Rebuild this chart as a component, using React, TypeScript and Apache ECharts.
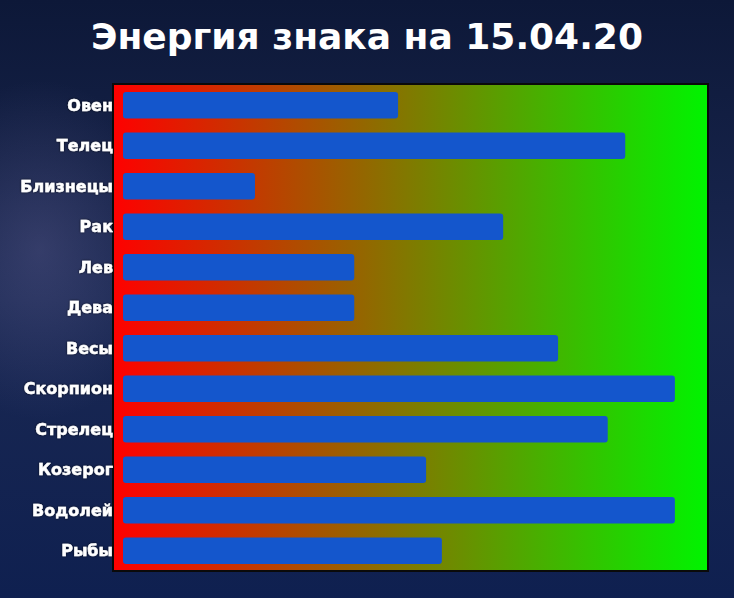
import React, { useEffect, useRef } from "react";
import * as echarts from "echarts";

const categories = [
  "Овен",
  "Телец",
  "Близнецы",
  "Рак",
  "Лев",
  "Дева",
  "Весы",
  "Скорпион",
  "Стрелец",
  "Козерог",
  "Водолей",
  "Рыбы",
];
const values = [47.1, 86.0, 22.6, 65.1, 39.6, 39.6, 74.5, 94.5, 83.0, 51.9, 94.5, 54.6];
const titleText = "Энергия знака на 15.04.20";

export default function App() {
  const ref = useRef<HTMLDivElement>(null);
  useEffect(() => {
    document.body.style.margin = "0";
    const chart = echarts.init(ref.current!, null, { renderer: "svg" });
    chart.setOption({
      animation: false,
      backgroundColor: "#0e1a3c",
      title: {
        text: titleText,
        left: "center",
        top: 13,
        textStyle: {
          color: "#ffffff",
          fontFamily: "'DejaVu Sans', sans-serif",
          fontWeight: "bold",
          fontSize: 36,
        },
      },
      graphic: [
        {
          type: "rect",
          z: -20,
          silent: true,
          shape: { x: 0, y: 0, width: 734, height: 598 },
          style: {
            fill: new echarts.graphic.LinearGradient(0, 0, 0, 1, [
              { offset: 0, color: "#0d1838" },
              { offset: 0.5, color: "#1a2852" },
              { offset: 1, color: "#0f2050" },
            ]),
          },
        },
        {
          type: "ellipse",
          z: -19,
          silent: true,
          shape: { cx: 40, cy: 250, rx: 130, ry: 170 },
          style: {
            fill: new echarts.graphic.RadialGradient(0.5, 0.5, 0.5, [
              { offset: 0, color: "rgba(120,115,170,0.3)" },
              { offset: 1, color: "rgba(120,115,170,0)" },
            ]),
          },
        },
        {
          type: "rect",
          z: -10,
          silent: true,
          shape: { x: 113, y: 84, width: 595, height: 487 },
          style: {
            fill: new echarts.graphic.LinearGradient(0, 0, 1, 0, [
              { offset: 0, color: "#ff0000" },
              { offset: 1, color: "#00f400" },
            ]),
            stroke: "#0a0a0a",
            lineWidth: 2,
          },
        },
      ],
      grid: { left: 123, right: 27, top: 85, bottom: 27 },
      xAxis: { type: "value", min: 0, max: 100, show: false },
      yAxis: {
        type: "category",
        data: categories,
        inverse: true,
        axisLine: { show: false },
        axisTick: { show: false },
        splitLine: { show: false },
        axisLabel: {
          margin: 10,
          color: "#ffffff",
          fontFamily: "'DejaVu Sans', sans-serif",
          fontWeight: "bold",
          fontSize: 16,
          textBorderColor: "#ffffff",
          textBorderWidth: 0.4,
          textShadowColor: "rgba(0,0,0,0.8)",
          textShadowBlur: 2,
        },
      },
      series: [
        {
          type: "bar",
          data: values,
          barWidth: "66%",
          itemStyle: { color: "#1456cc", borderRadius: 3 },
        },
      ],
    });
    return () => chart.dispose();
  }, []);
  return (
    <div
      ref={ref}
      style={{ position: "absolute", left: 0, top: 0, width: 734, height: 598 }}
    />
  );
}
